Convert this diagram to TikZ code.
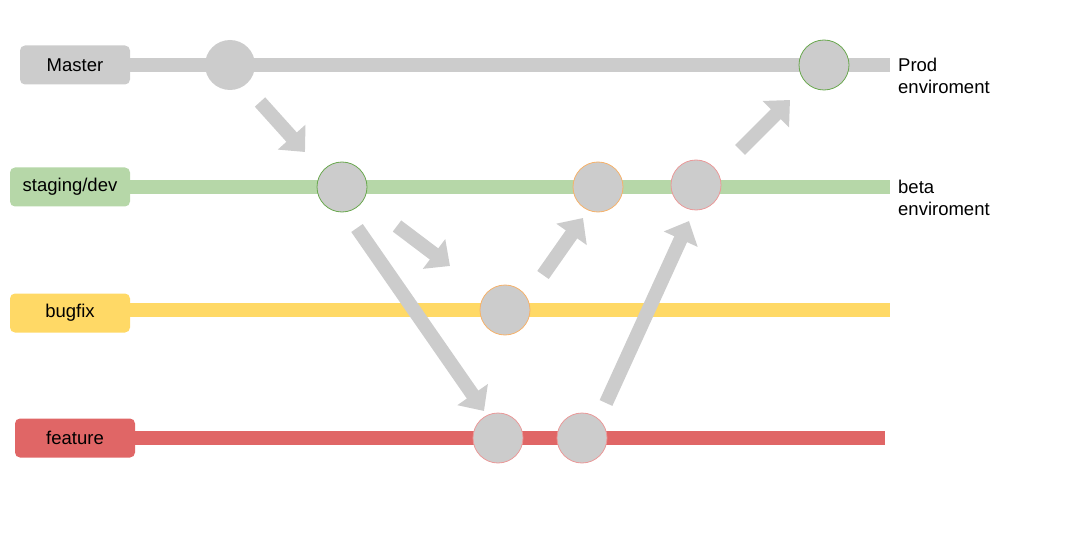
\documentclass[tikz,border=0pt]{standalone}
\usepackage{fontspec}
\setmainfont{Liberation Sans}
\usetikzlibrary{arrows.meta}
\definecolor{cgray}{HTML}{CCCCCC}
\definecolor{cgreen}{HTML}{B6D7A8}
\definecolor{cyellow}{HTML}{FFD966}
\definecolor{cred}{HTML}{E06666}
\definecolor{bgreen}{HTML}{6AA84F}
\definecolor{borange}{HTML}{F6B26B}
\definecolor{bred}{HTML}{EA9999}
\tikzset{
  branch/.style={rounded corners=5pt, minimum width=110pt, minimum height=39pt, inner sep=0pt, font=\fontsize{18.5}{22}\selectfont},
  track/.style={line width=14pt},
  commit/.style={circle, fill=cgray, minimum size=50pt, inner sep=0pt, line width=0.8pt},
  flow/.style={cgray, line width=14pt, -{Triangle[length=20pt,width=36pt]}},
  envlabel/.style={anchor=west, align=left, font=\fontsize{18.5}{22}\selectfont, inner sep=0pt}
}
\begin{document}
\begin{tikzpicture}[x=1pt,y=-1pt]
\useasboundingbox (0,0) rectangle (1088,559);
% branch boxes
\node[branch, fill=cgray] (master) at (75,65) {Master};
\node[branch, fill=cgreen, minimum width=120pt] (staging) at (70,187) {staging/dev};
\node[branch, fill=cyellow, minimum width=120pt] (bugfix) at (70,313) {bugfix};
\node[branch, fill=cred, minimum width=120pt] (feature) at (75,438) {feature};
% track ends
\coordinate (mend) at (890,65);
\coordinate (send) at (890,187);
\coordinate (bend) at (890,310);
\coordinate (fend) at (885,438);
\draw[track, cgray] (master.east |- 0,65) -- (mend);
\draw[track, cgreen] (staging.east |- 0,187) -- (send);
\draw[track, cyellow] (bugfix.east |- 0,310) -- (bend);
\draw[track, cred] (feature.east |- 0,438) -- (fend);
% commits
\node[commit] (m1) at (230,65) {};
\node[commit, draw=bgreen] (m2) at (824,65) {};
\node[commit, draw=bgreen] (s1) at (342,187) {};
\node[commit, draw=borange] (s2) at (598,187) {};
\node[commit, draw=bred] (s3) at (696,185) {};
\node[commit, draw=borange] (b1) at (505,310) {};
\node[commit, draw=bred] (f1) at (498,438) {};
\node[commit, draw=bred] (f2) at (582,438) {};
% environment labels
\node[envlabel] (prod) at (898,76) {Prod\\enviroment};
\node[envlabel] (beta) at (898,198) {beta\\enviroment};
% flow arrows
\coordinate (a1s) at (260,102); \coordinate (a1e) at (305,152);
\coordinate (a2s) at (397,226); \coordinate (a2e) at (450,266);
\coordinate (a3s) at (357,228); \coordinate (a3e) at (484,411);
\coordinate (a4s) at (543,275); \coordinate (a4e) at (583,218);
\coordinate (a5s) at (606,403); \coordinate (a5e) at (689,221);
\coordinate (a6s) at (740,150); \coordinate (a6e) at (790,100);
\draw[flow] (a1s) -- (a1e);
\draw[flow] (a2s) -- (a2e);
\draw[flow] (a3s) -- (a3e);
\draw[flow] (a4s) -- (a4e);
\draw[flow] (a5s) -- (a5e);
\draw[flow] (a6s) -- (a6e);
\end{tikzpicture}
\end{document}
